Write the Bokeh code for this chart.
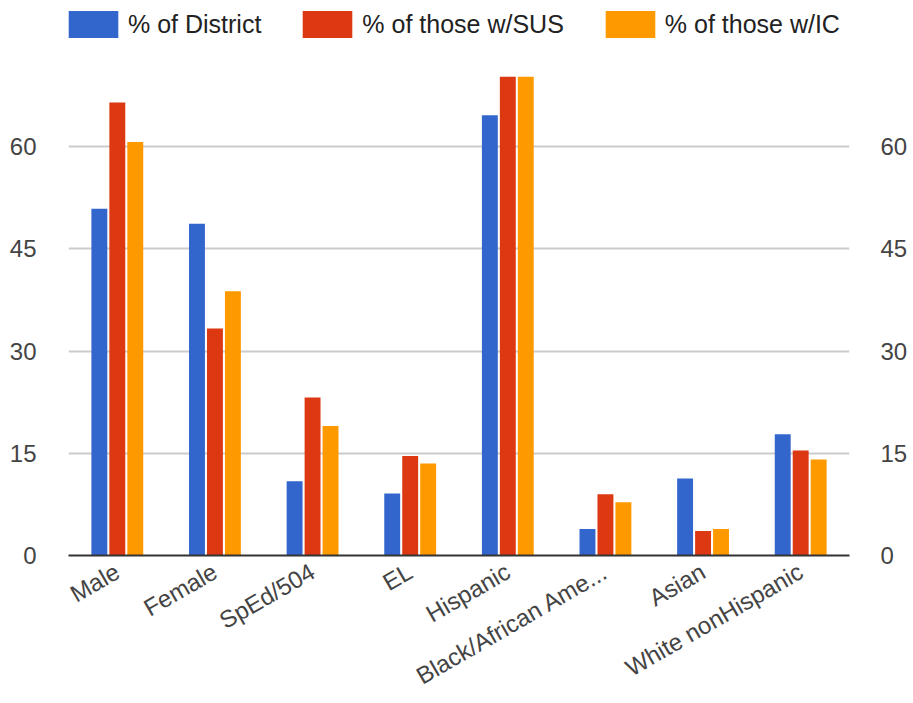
from bokeh.plotting import figure
from bokeh.layouts import column
from bokeh.models import (ColumnDataSource, FactorRange, Range1d, FixedTicker, LinearAxis,
                          Legend, LegendItem)
from bokeh.transform import dodge
from bokeh.embed import file_html
from bokeh.resources import INLINE

categories = ["Male", "Female", "SpEd/504", "EL", "Hispanic",
              "Black/African Ame...", "Asian", "White nonHispanic"]
pct_district = [50.9, 48.7, 10.9, 9.1, 64.6, 3.9, 11.3, 17.8]
pct_sus = [66.5, 33.3, 23.2, 14.6, 72.0, 9.0, 3.6, 15.4]
pct_ic = [60.7, 38.8, 19.0, 13.5, 71.5, 7.8, 3.9, 14.1]
y_ticks = [0, 15, 30, 45, 60]
series_names = ["% of District", "% of those w/SUS", "% of those w/IC"]
colors = ["#3366cc", "#dc3912", "#ff9900"]

src = ColumnDataSource(dict(cat=categories, d=pct_district, s=pct_sus, i=pct_ic))

FONT = "Liberation Sans"
W = 910

# ---- legend strip (a placeholder glyph outside the visible range feeds the legend) ----
lf = figure(width=W, height=76, output_backend="svg", toolbar_location=None,
            x_axis_type=None, y_axis_type=None, min_border=0,
            x_range=Range1d(0, 1), y_range=Range1d(0, 1))
lf.outline_line_color = None
lf.xgrid.grid_line_color = None
lf.ygrid.grid_line_color = None
placeholder = ColumnDataSource(dict(x=[-5], top=[0]))
leg_r = [lf.vbar(x="x", top="top", width=0.1, source=placeholder, fill_color=c, line_color=None)
         for c in colors]
legend = Legend(items=[LegendItem(label=series_names[k], renderers=[leg_r[k]]) for k in range(3)],
                orientation="horizontal", location=(-6, 35),
                glyph_width=62, glyph_height=34, label_standoff=4, spacing=35,
                padding=0, margin=0, border_line_color=None, background_fill_alpha=0,
                label_text_font=FONT, label_text_font_size="25px", label_text_color="#222222",
                label_height=34)
lf.add_layout(legend, "center")

# ---- main chart ----
p = figure(x_range=FactorRange(*categories, range_padding=0), y_range=Range1d(0, 70.3),
           width=W, height=627, output_backend="svg", toolbar_location=None,
           min_border_left=68, min_border_right=W - 853, min_border_top=0, min_border_bottom=142)
p.outline_line_color = None
p.background_fill_color = "white"

step = 0.184
w = 0.163
for k, col in enumerate(["d", "s", "i"]):
    p.vbar(x=dodge("cat", (k - 1) * step, range=p.x_range), top=col, width=w,
           source=src, fill_color=colors[k], line_color=None)

p.yaxis.ticker = FixedTicker(ticks=y_ticks)
for ax in p.yaxis:
    ax.axis_line_color = None
    ax.major_tick_line_color = None
    ax.minor_tick_line_color = None
    ax.major_label_text_font = FONT
    ax.major_label_text_font_size = "24px"
    ax.major_label_text_color = "#444444"
    ax.major_label_standoff = 26

right = LinearAxis(ticker=FixedTicker(ticks=y_ticks), axis_line_color=None,
                   major_tick_line_color=None, minor_tick_line_color=None,
                   major_label_text_font=FONT, major_label_text_font_size="24px",
                   major_label_text_color="#444444", major_label_standoff=25)
p.add_layout(right, "right")

xa = p.xaxis[0]
xa.axis_line_color = "#333333"
xa.axis_line_width = 2
xa.major_tick_line_color = None
xa.minor_tick_line_color = None
xa.major_label_orientation = 0.5236
xa.major_label_text_font = FONT
xa.major_label_text_font_size = "24px"
xa.major_label_text_color = "#444444"
xa.major_label_standoff = 8

p.xgrid.grid_line_color = None
p.ygrid.ticker = FixedTicker(ticks=[15, 30, 45, 60])
p.ygrid.grid_line_color = "#cccccc"
p.ygrid.grid_line_width = 2

layout = column(lf, p, spacing=0)
open("out.html", "w").write(file_html(layout, INLINE))
